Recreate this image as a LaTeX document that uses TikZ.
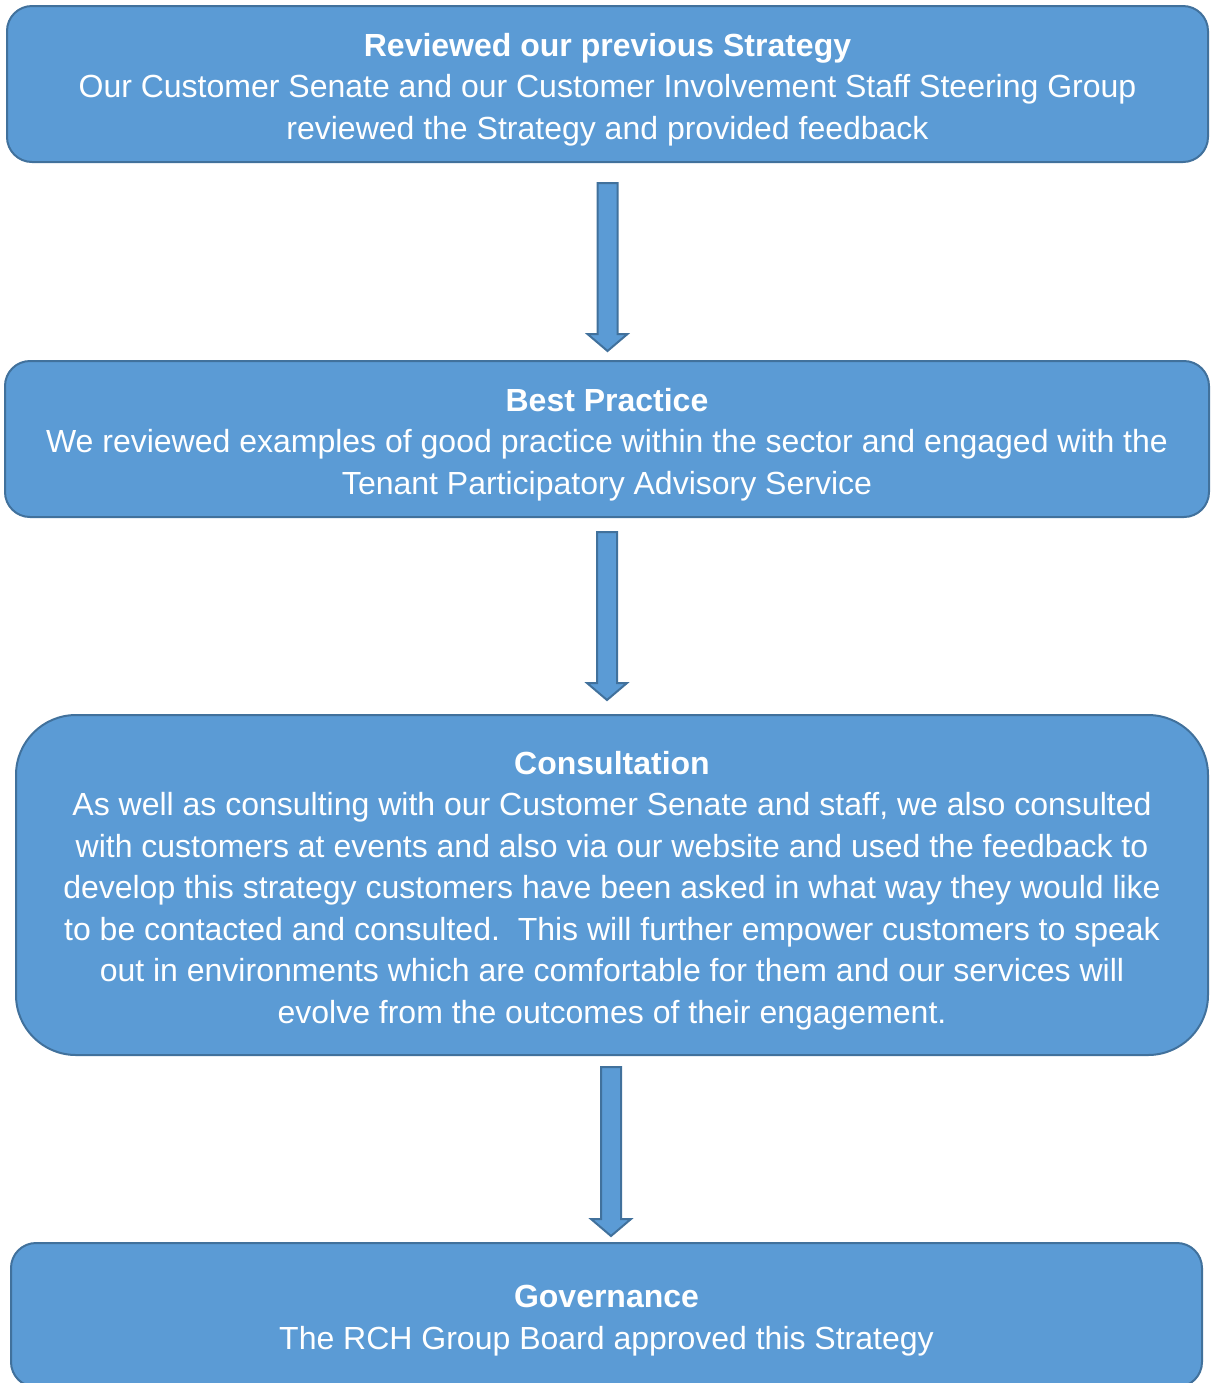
\documentclass[tikz,border=0pt]{standalone}
\usepackage{fontspec}
\setmainfont{Liberation Sans}
\usetikzlibrary{positioning, calc}
\definecolor{boxfill}{HTML}{5B9BD5}
\definecolor{boxline}{HTML}{41719C}
\newcommand{\headline}[1]{\rule{0pt}{17pt}\textbf{#1}}

\begin{document}
\begin{tikzpicture}[x=0.5pt, y=-0.5pt, font=\fontsize{16}{20.75}\selectfont, stage/.style={draw=boxline, fill=boxfill, line width=1pt, rounded corners=12.5pt, align=center, text=white, inner sep=0pt}, down/.style={draw=boxline, fill=boxfill, line width=1pt, to path={let \p1=(\tikztostart), \p2=(\tikztotarget) in (\x1-5pt,\y1) -- (\x1+5pt,\y1) -- (\x1+5pt,\y2+8.5pt) -- (\x1+10pt,\y2+8.5pt) -- (\x1,\y2) -- (\x1-10pt,\y2+8.5pt) -- (\x1-5pt,\y2+8.5pt) -- cycle}}]
\clip (0,0) rectangle (1213,1383);
\node[stage, minimum width=600.5pt, minimum height=78pt] (review) at (607.5,84) {\headline{Reviewed our previous Strategy}\\Our Customer Senate and our Customer Involvement Staff Steering Group\\reviewed the Strategy and provided feedback};
\node[stage, minimum width=602pt, minimum height=78pt] (practice) at (607,439) {\headline{Best Practice}\\We reviewed examples of good practice within the sector and engaged with the\\Tenant Participatory Advisory Service};
\node[stage, rounded corners=30pt, minimum width=596pt, minimum height=170pt] (consult) at (612,885) {\headline{Consultation}\\As well as consulting with our Customer Senate and staff, we also consulted\\with customers at events and also via our website and used the feedback to\\develop this strategy customers have been asked in what way they would like\\to be contacted and consulted.\ \ This will further empower customers to speak\\out in environments which are comfortable for them and our services will\\evolve from the outcomes of their engagement.};
\node[stage, minimum width=595.5pt, minimum height=72pt] (govern) at (606.5,1315) {\headline{Governance}\\The RCH Group Board approved this Strategy};
\draw[down] ([yshift=-10pt]review.south) to ([yshift=4.5pt]practice.north);\draw[down] ([yshift=-7pt]practice.south) to ([yshift=7pt]consult.north);\draw[down] ([xshift=-0.5pt,yshift=-5.5pt]consult.south) to ([yshift=3pt]govern.north);
\end{tikzpicture}
\end{document}
